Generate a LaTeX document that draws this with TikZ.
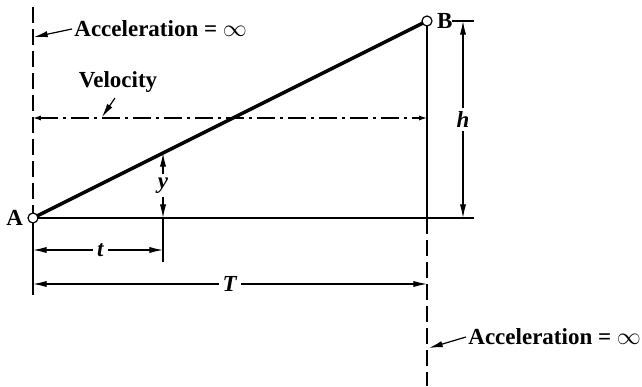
\documentclass[tikz,border=0pt]{standalone}
\usepackage{fontspec}
\setmainfont{Liberation Serif}
\usetikzlibrary{arrows.meta,calc,positioning}
\tikzset{
    motion diagram/.style = {x=0.5pt, y=-0.5pt, >={Latex[length=2.4mm, width=1.1mm]}},
    thin line/.style      = {line width=0.6pt},
    path line/.style      = {line width=1.7pt},
    limit line/.style     = {thin line, dash pattern=on 8pt off 3pt},
    speed line/.style     = {thin line, dash pattern=on 9pt off 2.5pt on 1.5pt off 2.5pt},
    dim/.style            = {thin line, <->},
    leader/.style         = {thin line, ->},
    small tips/.style     = {thin line, {Latex[length=1.4mm, width=0.9mm]}-{Latex[length=1.4mm, width=0.9mm]}},
    endpoint/.style       = {circle, draw, thin line, fill=white,
                             inner sep=0pt, minimum size=5pt},
    lbl/.style            = {font=\fontsize{11.5}{14}\selectfont\bfseries,
                             inner sep=1pt},
    dimlbl/.style         = {lbl, fill=white, inner sep=2pt},
    note/.style           = {lbl, anchor=west}
}
\begin{document}
\begin{tikzpicture}[motion diagram]
\useasboundingbox (0,0) rectangle (642,386);

% End points of the constant-velocity path
\coordinate (A) at (33,218);
\coordinate (B) at (427,21);
\coordinate (P) at ($(A)!0.33!(B)$);

% Time limits: dashed where acceleration is infinite
\draw[limit line] (33,7) -- (A);
\draw[thin line]  (A) -- (33,295);
\draw[thin line]  (B) -- (427,218);
\draw[limit line] (427,218) -- (427,386);

% Time axis and top of rise
\draw[thin line] (A) -- (474,218);
\draw[thin line] (452,21) -- (474,21);

% Velocity level
\draw[speed line, small tips] (33,118) -- (427,118);

% Displacement curve
\draw[path line] (A) -- (B);
\node[endpoint] (a) at (A) {};
\node[endpoint] (b) at (B) {};
\node[lbl, left=1pt of a]  {A};
\node[lbl, right=1pt of b] {B};

% Rise h
\draw[dim] (463,21) -- (463,218)
    node[dimlbl, pos=0.5] {\textit{h}};

% Displacement y at time t
\draw[thin line] (P |- A) -- (P |- 0,262);
\draw[dim] (P) -- (P |- A)
    node[dimlbl, pos=0.5] {\textit{y}};

% Time dimensions
\draw[dim] (33,250) -- (P |- 0,250)
    node[dimlbl, pos=0.52] {\textit{t}};
\draw[dim] (33,284) -- (427,284)
    node[dimlbl, pos=0.5] {\textit{T}};

% Notes with leaders
\node[note] (acc1) at (72,29) {Acceleration = $\infty$};
\draw[leader] (acc1.west) -- (34,37);
\node[lbl] (vel) at (118,82) {Velocity};
\draw[leader] (115,98) -- (102,117);
\node[note] (acc2) at (466,337) {Acceleration = $\infty$};
\draw[leader] (acc2.west) -- (429,348);

\end{tikzpicture}
\end{document}
